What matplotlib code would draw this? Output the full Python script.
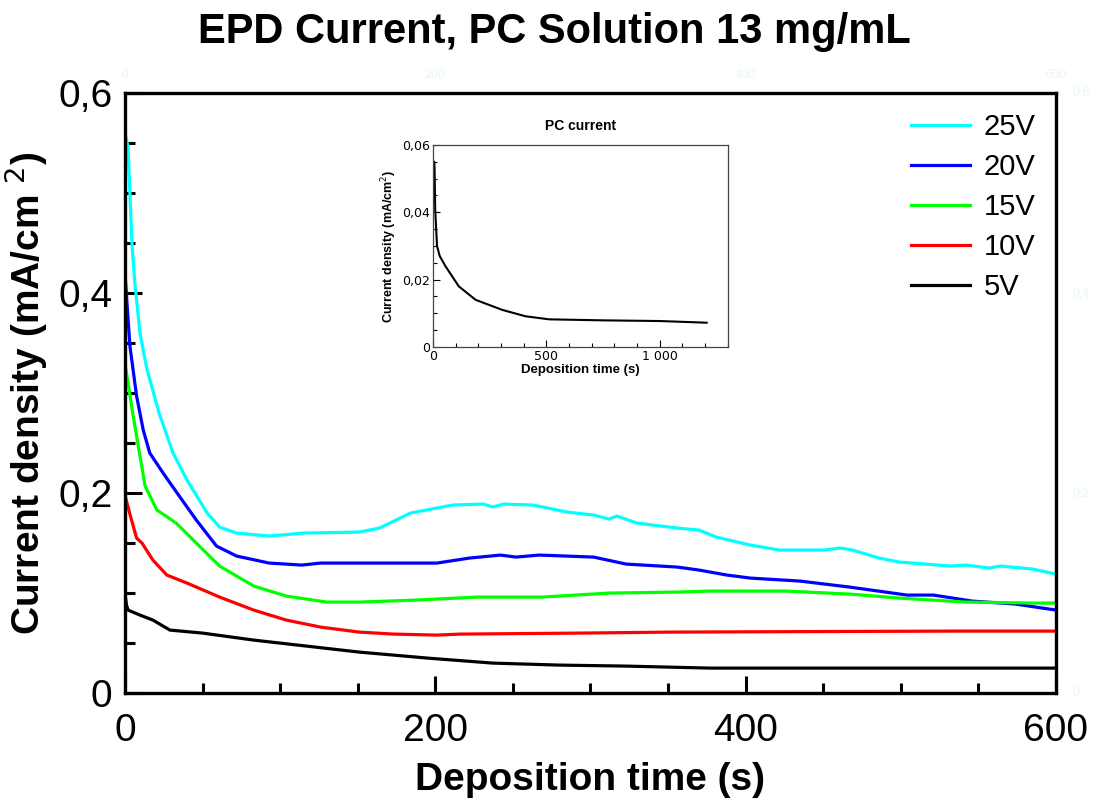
import matplotlib
matplotlib.use("Agg")
import matplotlib.pyplot as plt
from matplotlib.ticker import MultipleLocator, FuncFormatter

plt.rcParams['font.family'] = ['Liberation Sans', 'DejaVu Sans']

# ---- main data (time s, current density mA/cm2) ----
t25 = [0, 2, 4.5, 6.4, 9.7, 14, 22, 31, 40, 53, 61, 72, 93, 115, 151, 164, 184, 211, 231, 237, 244, 263,
       285, 302, 312, 317, 330, 356, 370, 381, 403, 422, 450, 461, 469, 486, 499, 532, 542, 557, 564, 585, 600]
j25 = [0.56, 0.546, 0.45, 0.41, 0.36, 0.325, 0.28, 0.24, 0.213, 0.18, 0.166, 0.160, 0.157, 0.160, 0.161, 0.165, 0.180, 0.188, 0.189, 0.186, 0.189, 0.188,
       0.181, 0.178, 0.174, 0.177, 0.170, 0.165, 0.163, 0.156, 0.148, 0.143, 0.143, 0.145, 0.143, 0.135, 0.131, 0.127, 0.128, 0.125, 0.127, 0.124, 0.119]

t20 = [0, 3.2, 7.5, 11.8, 16, 24.6, 35, 46, 59, 72, 93, 114, 126, 151, 201, 222, 242, 252, 267, 302, 323,
       356, 370, 388, 403, 435, 467, 504, 521, 546, 574, 600]
j20 = [0.42, 0.347, 0.297, 0.263, 0.24, 0.22, 0.197, 0.173, 0.147, 0.137, 0.130, 0.128, 0.130, 0.130, 0.130, 0.135, 0.138, 0.136, 0.138, 0.136, 0.129,
       0.126, 0.123, 0.118, 0.115, 0.112, 0.106, 0.098, 0.098, 0.092, 0.089, 0.083]

t15 = [0, 5, 8.6, 13, 20.6, 33, 46, 61, 83, 104, 130, 151, 188, 227, 269, 312, 356, 377, 426, 467, 499, 542, 585, 600]
j15 = [0.33, 0.28, 0.247, 0.207, 0.183, 0.170, 0.150, 0.127, 0.107, 0.097, 0.091, 0.091, 0.093, 0.096, 0.096, 0.100, 0.101, 0.102, 0.102, 0.099, 0.095, 0.091, 0.090, 0.090]

t10 = [0, 3, 7.5, 11, 18, 27, 40, 61, 83, 104, 126, 151, 173, 201, 216, 293, 353, 532, 600]
j10 = [0.198, 0.18, 0.155, 0.150, 0.133, 0.118, 0.110, 0.096, 0.083, 0.073, 0.066, 0.061, 0.059, 0.058, 0.059, 0.060, 0.061, 0.062, 0.062]

t5 = [0, 1, 2, 9.7, 18, 29, 50, 83, 151, 195, 237, 280, 323, 377, 450, 600]
j5 = [0.10, 0.088, 0.083, 0.078, 0.073, 0.063, 0.060, 0.053, 0.041, 0.035, 0.030, 0.028, 0.027, 0.025, 0.025, 0.025]

series_labels = ['25V', '20V', '15V', '10V', '5V']
series_colors = ['#00ffff', '#0000ff', '#00ff00', '#ff0000', '#000000']

# ---- inset data ----
t_pc = [0, 5, 7, 10, 18, 30, 55, 114, 188, 306, 409, 513, 749, 1000, 1207]
j_pc = [0.050, 0.055, 0.054, 0.041, 0.030, 0.027, 0.024, 0.018, 0.014, 0.011, 0.0091, 0.0082, 0.0079, 0.0077, 0.0072]

xticks = [0, 200, 400, 600]
yticks = [0, 0.2, 0.4, 0.6]

def comma(v, pos=None):
    s = ('%g' % round(v, 4))
    return s.replace('.', ',')

fig = plt.figure(figsize=(10.96, 8.05), dpi=100)
ax = fig.add_axes([0.114, 0.139, 0.8495, 0.7455])

for t, j, lab, c in zip([t25, t20, t15, t10, t5], [j25, j20, j15, j10, j5], series_labels, series_colors):
    ax.plot(t, j, color=c, lw=2.3, label=lab)

ax.set_xlim(0, 600)
ax.set_ylim(0, 0.6)
ax.set_xticks(xticks)
ax.set_yticks(yticks)
ax.xaxis.set_minor_locator(MultipleLocator(50))
ax.yaxis.set_minor_locator(MultipleLocator(0.05))
ax.yaxis.set_major_formatter(FuncFormatter(comma))
ax.tick_params(which='major', direction='in', length=12, width=2.2, labelsize=28)
ax.tick_params(which='minor', direction='in', length=7.5, width=2.2)
ax.tick_params(axis='x', which='major', pad=14)
ax.tick_params(axis='y', which='major', pad=9)
for sp in ax.spines.values():
    sp.set_linewidth(2.4)
ax.set_xlabel('Deposition time (s)', fontsize=28, fontweight='bold')
ax.set_ylabel('Current density (mA/cm $^2$)', fontsize=28, fontweight='bold')
ax.xaxis.set_label_coords(0.5, -0.115)
ax.yaxis.set_label_coords(-0.081, 0.5)
fig.suptitle('EPD Current, PC Solution 13 mg/mL', fontsize=30, fontweight='bold', x=0.506, y=0.985)

leg = ax.legend(loc='upper right', frameon=False, fontsize=21, handlelength=2.0,
                labelspacing=0.41, handletextpad=0.48, borderaxespad=0.3,
                bbox_to_anchor=(1.0, 1.0))

# faint ghost labels
for v in xticks:
    ax.text(v, 1.03, str(v), transform=ax.get_xaxis_transform(), ha='center', va='center',
            fontsize=9, color='#e6f6fb')
for v in yticks:
    ax.text(1.018, v, comma(v), transform=ax.get_yaxis_transform(), ha='left', va='center',
            fontsize=9, color='#e6f6fb')

# inset
ins = fig.add_axes([0.395, 0.569, 0.269, 0.251])
ins.plot(t_pc, j_pc, color='black', lw=1.5)
ins.set_xlim(0, 1300)
ins.set_ylim(0, 0.06)
ins.set_xticks([0, 500, 1000])
ins.set_xticklabels(['0', '500', '1 000'])
ins.set_yticks([0, 0.02, 0.04, 0.06])
ins.yaxis.set_major_formatter(FuncFormatter(comma))
ins.xaxis.set_minor_locator(MultipleLocator(100))
ins.yaxis.set_minor_locator(MultipleLocator(0.005))
ins.tick_params(which='major', direction='in', length=5, width=0.8, pad=2)
ins.tick_params(which='minor', direction='in', length=3, width=0.8)
for lbl in ins.get_xticklabels() + ins.get_yticklabels():
    lbl.set_fontfamily('DejaVu Sans')
    lbl.set_fontsize(9)
for sp in ins.spines.values():
    sp.set_linewidth(0.9)
    sp.set_color('#444444')
ins.set_xlabel('Deposition time (s)', fontsize=9.5, fontweight='bold', labelpad=1)
ins.set_ylabel('Current density (mA/cm$^2$)', fontsize=9, fontweight='bold', labelpad=2)
ins.set_title('PC current', fontsize=10, fontweight='bold', pad=11)

fig.savefig('out.png', dpi=100)
